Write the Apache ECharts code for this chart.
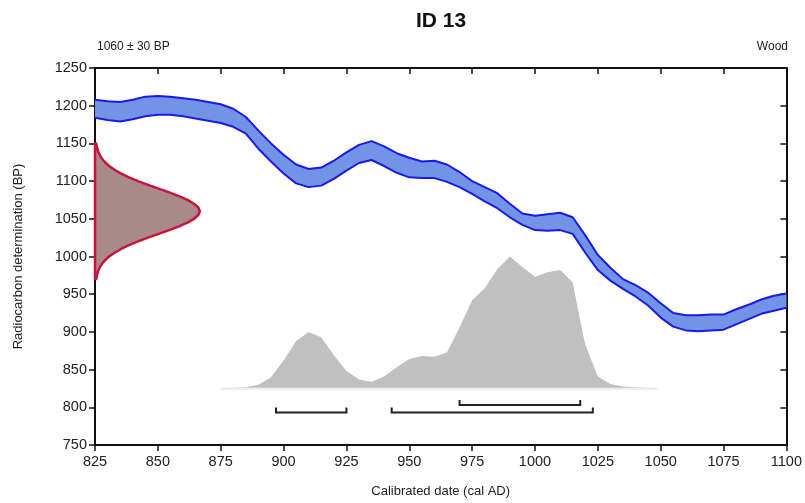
<!DOCTYPE html>
<html>
<head>
<meta charset="utf-8">
<script src="https://cdn.jsdelivr.net/npm/echarts@6/dist/echarts.min.js"></script>
<style>html,body{margin:0;padding:0;background:#fff}#c{width:805px;height:503px}</style>
</head>
<body>
<div id="c"></div>
<script>
// ---- Data ----
var curveYears = [825,830,835,840,845,850,855,860,865,870,875,880,885,890,895,900,905,910,915,920,925,930,935,940,945,950,955,960,965,970,975,980,985,990,995,1000,1005,1010,1015,1020,1025,1030,1035,1040,1045,1050,1055,1060,1065,1070,1075,1080,1085,1090,1095,1100];
var curveUpper = [1208,1206,1205,1208,1212,1213,1212,1210,1208,1205,1202,1196,1185,1167,1150,1135,1122,1116,1118,1127,1138,1148,1153,1146,1137,1131,1126,1127,1122,1112,1100,1092,1084,1070,1057,1054,1056,1058,1052,1028,1002,985,970,962,952,938,925,922,922,923,923,930,936,943,948,951];
var curveLower = [1184,1181,1179,1182,1186,1188,1188,1186,1183,1180,1177,1172,1163,1143,1126,1110,1097,1092,1094,1103,1114,1124,1128,1120,1111,1105,1104,1104,1099,1092,1083,1073,1064,1052,1042,1035,1034,1035,1030,1005,982,968,957,947,935,919,907,902,901,902,903,910,917,924,928,932];

// radiocarbon measurement distribution (BP value, width in years from axis start)
var measBP    = [970,975,980,985,990,995,1000,1005,1010,1015,1020,1025,1030,1035,1040,1045,1050,1055,1060,1065,1070,1075,1080,1085,1090,1095,1100,1105,1110,1115,1120,1125,1130,1135,1140,1145,1150];
var measWidth = [0.5,0.75,1.2,1.8,2.7,4.0,5.6,7.8,10.4,13.5,17.1,21.1,25.3,29.5,33.4,36.8,39.4,41.1,41.7,41.1,39.4,36.8,33.4,29.5,25.3,21.1,17.1,13.5,10.4,7.8,5.6,4.0,2.7,1.8,1.2,0.75,0.5];
var measBase = 825;

// calibrated probability (heights in BP units above baseline)
var histBase = 826;
var histYears   = [878,885,890,895,900,905,910,915,920,925,930,935,940,945,950,955,960,965,970,975,980,985,990,995,1000,1005,1010,1015,1017.5,1020,1025,1030,1035,1040,1047];
var histHeights = [0,0.5,4,14,36,62,74,67,43,22,11,8,15,27,38,42,41,47,80,116,132,157,174,160,147,153,156,140,97,57,15,5,1.5,0.5,0];

// calibrated ranges
var rangeStart = [897, 943, 970];
var rangeEnd   = [925, 1023, 1018];
var rangeLevel = [793, 793, 803];

var xTicksMin = 825, xTicksMax = 1100, xStep = 25;
var yTicksMin = 750, yTicksMax = 1250, yStep = 50;

// ---- Chart ----
var chart = echarts.init(document.getElementById('c'), null, {renderer: 'canvas'});
var FONT = 'Liberation Sans, Arial, sans-serif';

var upData = curveYears.map(function (x, i) { return [x, curveUpper[i]]; });
var lowData = curveYears.map(function (x, i) { return [x, curveLower[i]]; });
var histData = histYears.map(function (x, i) { return [x, histBase + histHeights[i]]; });
var measData = measBP.map(function (y, i) { return [measBase + measWidth[i], y]; });
var rangeData = rangeStart.map(function (s, i) { return [s, rangeEnd[i], rangeLevel[i]]; });

var axisLine = {show: true, lineStyle: {color: '#111', width: 2}};
function plain(v) { return String(v); }

chart.setOption({
  animation: false,
  backgroundColor: '#fff',
  grid: {left: 95, right: 17, top: 68, bottom: 55, containLabel: false},
  graphic: [
    {type: 'text', x: 441, y: 11, style: {text: 'ID 13', font: 'bold 21px ' + FONT, fill: '#111', textAlign: 'center'}},
    {type: 'text', left: 97, top: 41, style: {text: '1060 \u00b1 30 BP', font: '12px ' + FONT, fill: '#222'}},
    {type: 'text', right: 17, top: 41, style: {text: 'Wood', font: '12px ' + FONT, fill: '#222'}}
  ],
  xAxis: [{
    type: 'value', min: xTicksMin, max: xTicksMax, interval: xStep, position: 'bottom',
    name: 'Calibrated date (cal AD)', nameLocation: 'middle', nameGap: 40,
    nameTextStyle: {fontFamily: FONT, fontSize: 13, color: '#222'},
    axisLine: axisLine, axisTick: {show: true, length: 6, lineStyle: {color: '#111', width: 1.5}},
    axisLabel: {fontFamily: FONT, fontSize: 14.5, color: '#222', margin: 9, formatter: plain},
    splitLine: {show: false}
  }, {
    type: 'value', min: xTicksMin, max: xTicksMax, interval: xStep, position: 'top',
    axisLine: axisLine, axisTick: {show: true, inside: true, length: 6, lineStyle: {color: '#111', width: 1.5}},
    axisLabel: {show: false}, splitLine: {show: false}
  }],
  yAxis: [{
    type: 'value', min: yTicksMin, max: yTicksMax, interval: yStep, position: 'left',
    name: 'Radiocarbon determination (BP)', nameLocation: 'middle', nameGap: 70,
    nameTextStyle: {fontFamily: FONT, fontSize: 13, color: '#222'},
    axisLine: axisLine, axisTick: {show: true, length: 6, lineStyle: {color: '#111', width: 1.5}},
    axisLabel: {fontFamily: FONT, fontSize: 14.5, color: '#222', margin: 8, formatter: plain},
    splitLine: {show: false}
  }, {
    type: 'value', min: yTicksMin, max: yTicksMax, interval: yStep, position: 'right',
    axisLine: axisLine, axisTick: {show: true, inside: true, length: 6, lineStyle: {color: '#111', width: 1.5}},
    axisLabel: {show: false}, splitLine: {show: false}
  }],
  series: [
    {
      type: 'custom', name: 'calibrated', data: [0], z: 2, silent: true, clip: true,
      renderItem: function (params, api) {
        var pts = histData.map(function (d) { return api.coord(d); });
        var b1 = api.coord([histYears[histYears.length - 1], histBase]);
        var b0 = api.coord([histYears[0], histBase]);
        var l0 = api.coord([histYears[0] - 3, histBase]);
        var l1 = api.coord([histYears[histYears.length - 1] + 2, histBase]);
        pts.push(b1); pts.push(b0);
        return {type: 'group', children: [
          {type: 'line', shape: {x1: l0[0], y1: l0[1] + 1, x2: l1[0], y2: l1[1] + 1}, style: {stroke: '#ececec', lineWidth: 2}},
          {type: 'polygon', shape: {points: pts}, style: {fill: '#c0c0c0', stroke: null}}
        ]};
      }
    },
    {
      type: 'custom', name: 'curveBand', data: [0], z: 3, silent: true, clip: true,
      renderItem: function (params, api) {
        var pts = upData.map(function (d) { return api.coord(d); });
        for (var i = lowData.length - 1; i >= 0; i--) pts.push(api.coord(lowData[i]));
        return {type: 'polygon', shape: {points: pts}, style: {fill: '#7394e6', stroke: null}};
      }
    },
    {
      type: 'line', name: 'curveUpper', data: upData, symbol: 'none',
      lineStyle: {color: '#1a1ae8', width: 2}, z: 4, silent: true
    },
    {
      type: 'line', name: 'curveLower', data: lowData, symbol: 'none',
      lineStyle: {color: '#1a1ae8', width: 2}, z: 4, silent: true
    },
    {
      type: 'custom', name: 'measurement', data: [0], z: 6, silent: true,
      renderItem: function (params, api) {
        var pts = measData.map(function (d) { return api.coord(d); });
        pts.push(api.coord([measBase, measBP[measBP.length - 1]]));
        pts.push(api.coord([measBase, measBP[0]]));
        return {type: 'polygon', shape: {points: pts},
          style: {fill: '#a88a8a', stroke: '#c8143c', lineWidth: 2.5, lineJoin: 'round'}};
      }
    },
    {
      type: 'custom', name: 'ranges', data: rangeData, z: 6, silent: true,
      renderItem: function (params, api) {
        var a = api.coord([api.value(0), api.value(2)]);
        var b = api.coord([api.value(1), api.value(2)]);
        return {type: 'polyline', shape: {points: [[a[0], a[1] - 5], a, b, [b[0], b[1] - 5]]},
          style: {stroke: '#222', lineWidth: 2, fill: null}};
      }
    }
  ]
});
</script>
</body>
</html>
